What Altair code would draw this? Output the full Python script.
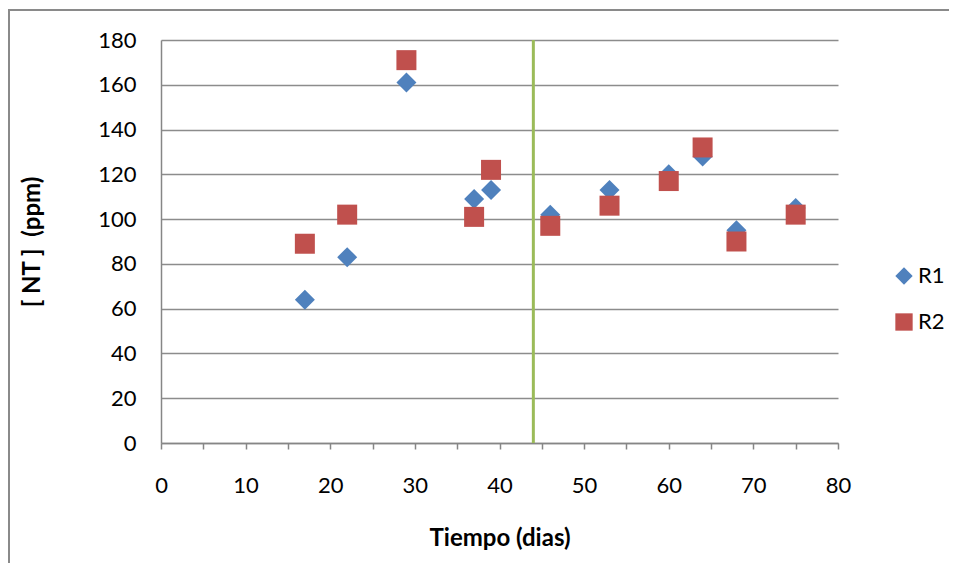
import altair as alt
import pandas as pd

dias = [17, 22, 29, 37, 39, 46, 53, 60, 64, 68, 75]
r1 = [64, 83, 161, 109, 113, 102, 113, 120, 128, 95, 105]
r2 = [89, 102, 171, 101, 122, 97, 106, 117, 132, 90, 102]
series_names = ["R1", "R2"]
series_colors = ["#4F81BD", "#C0504D"]
series_shapes = ["diamond", "square"]
y_ticks = list(range(0, 181, 20))
x_ticks = list(range(0, 81, 5))
cambio_dia = [44]

rows = []
for name, vals in zip(series_names, [r1, r2]):
    for d, v in zip(dias, vals):
        rows.append({"dias": d, "nt": v, "serie": name})
df = pd.DataFrame(rows)

FONT = "Lato"
W, H = 677, 403

border = alt.Chart(pd.DataFrame({"a": [0]})).mark_rect(
    filled=False, stroke="#8A8A8A", strokeWidth=2
).encode(
    x=alt.value(-152), x2=alt.value(830), y=alt.value(-30), y2=alt.value(560)
)

xenc = alt.X(
    "dias:Q",
    scale=alt.Scale(domain=[0, 80], nice=False),
    axis=alt.Axis(
        values=x_ticks,
        labelExpr="datum.value % 10 == 0 ? datum.label : ''",
        labelFlush=False,
        grid=False,
        domainColor="#868686",
        domainWidth=1.5,
        tickColor="#868686",
        tickWidth=1.5,
        tickSize=6,
        labelPadding=36,
        labelBaseline="middle",
        labelFont=FONT,
        labelFontSize=22,
        labelColor="#000000",
        title="Tiempo (dias)",
        titleFont=FONT,
        titleFontSize=24,
        titleFontWeight="bold",
        titleColor="#000000",
        titleX=338.5,
        titleY=95,
        titleBaseline="middle",
        titleAlign="center",
    ),
)

yenc = alt.Y(
    "nt:Q",
    scale=alt.Scale(domain=[0, 180], nice=False),
    axis=alt.Axis(
        values=y_ticks,
        grid=True,
        gridColor="#8C8C8C",
        gridWidth=1.3,
        domainColor="#868686",
        domainWidth=1.5,
        ticks=False,
        labelPadding=25,
        labelFont=FONT,
        labelFontSize=22,
        labelColor="#000000",
        title="[ NT ]\u00a0 (ppm)",
        titleFont=FONT,
        titleFontSize=24,
        titleFontWeight="bold",
        titleColor="#000000",
        titleAngle=270,
        titleX=-129,
        titleY=201.5,
        titleBaseline="middle",
        titleAlign="center",
    ),
)

legend_cfg = alt.Legend(
    orient="none",
    legendX=732,
    legendY=225,
    labelFont=FONT,
    labelFontSize=22,
    labelColor="#000000",
    labelOffset=3,
    symbolSize=300,
    symbolStrokeWidth=0,
    rowPadding=24,
    padding=0,
)

points = alt.Chart(df).mark_point(filled=True, opacity=1, size=400).encode(
    x=xenc,
    y=yenc,
    color=alt.Color(
        "serie:N",
        scale=alt.Scale(domain=series_names, range=series_colors),
        legend=legend_cfg,
        title=None,
    ),
    shape=alt.Shape(
        "serie:N",
        scale=alt.Scale(domain=series_names, range=series_shapes),
        legend=legend_cfg,
        title=None,
    ),
)

rule = alt.Chart(pd.DataFrame({"dias": cambio_dia})).mark_rule(
    color="#9BBB59", strokeWidth=3
).encode(x="dias:Q")

chart = alt.layer(border, rule, points).properties(
    width=W,
    height=H,
    autosize=alt.AutoSizeParams(type="none"),
    padding={"left": 153, "top": 32, "right": 111, "bottom": 120},
    background="#FFFFFF",
).configure_view(stroke=None)

chart.save("out.html", embed_options={"renderer": "svg", "actions": False})
